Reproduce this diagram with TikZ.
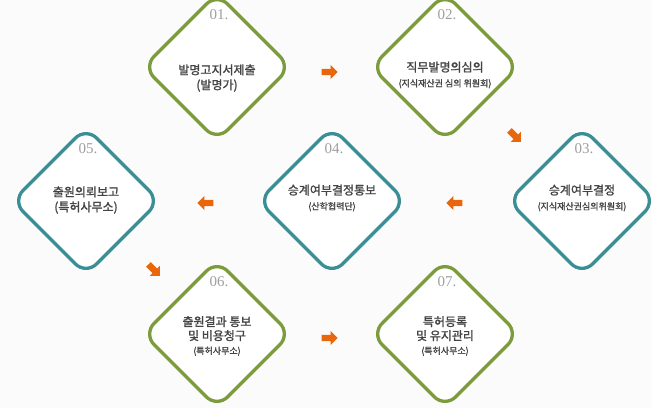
\documentclass[tikz,border=0pt]{standalone}
\usepackage{fontspec}
\setmainfont[FakeBold=1.5]{Noto Sans CJK KR}
\newfontfamily\numfont{Liberation Serif}
\usetikzlibrary{shapes.arrows}
\definecolor{gr}{HTML}{7B9B3C}
\definecolor{tl}{HTML}{3A8E95}
\definecolor{org}{HTML}{E8660C}
\definecolor{txt}{HTML}{444444}
\newcommand\subtxt{\fontsize{9}{11}\selectfont}
\tikzset{
 dia/.style={draw=#1,line width=3.3pt,fill=white,rectangle,rotate=45,minimum size=104pt,rounded corners=15pt},
 num/.style={text=gray!75,font=\numfont\fontsize{15}{15}\selectfont},
 lbl/.style={text=txt,align=center,font=\fontsize{12}{15}\selectfont},
 arr/.style={single arrow,fill=org,draw=none,minimum height=16pt,minimum width=14pt,single arrow head extend=2pt,inner sep=1.5pt}
}
\begin{document}
\begin{tikzpicture}[x=1pt,y=-1pt]
\fill[gray!3] (0,0) rectangle (651,408);
\useasboundingbox (0,0) rectangle (651,408);
\node[dia=gr] (d1) at (217,67) {};
\node[dia=gr] (d2) at (445,67) {};
\node[dia=tl] (d3) at (582,201) {};
\node[dia=tl] (d4) at (332,201) {};
\node[dia=tl] (d5) at (86,201) {};
\node[dia=gr] (d6) at (217,334) {};
\node[dia=gr] (d7) at (445,334) {};
\foreach \n/\x/\y in {1/219/15,2/447/15,3/584/149,4/334/149,5/88/149,6/219/282,7/447/282}
  \node[num] (n\n) at (\x,\y) {0\n.};
\node[lbl] (t1) at (217,78) {발명고지서제출\\(발명가)};
\node[lbl] (t2) at (445,75) {직무발명의심의\\{\subtxt (지식재산권 심의 위원회)}};
\node[lbl] (t3) at (582,198) {승계여부결정\\{\subtxt (지식재산권심의위원회)}};
\node[lbl] (t4) at (332,198) {승계여부결정통보\\{\subtxt (산학협력단)}};
\node[lbl] (t5) at (86,200) {출원의뢰보고\\(특허사무소)};
\node[lbl,font=\fontsize{12}{14}\selectfont] (t6) at (217,336) {출원결과 통보\\및 비용청구\\{\subtxt (특허사무소)}};
\node[lbl,font=\fontsize{12}{14}\selectfont] (t7) at (445,336) {특허등록\\및 유지관리\\{\subtxt (특허사무소)}};
\node[arr] (a12) at (328,72) {};
\node[arr,rotate=-45] (a23) at (514,135) {};
\node[arr,rotate=180] (a34) at (456,203) {};
\node[arr,rotate=180] (a45) at (207,203) {};
\node[arr,rotate=-45] (a56) at (153,269) {};
\node[arr] (a67) at (328,338) {};
\end{tikzpicture}
\end{document}
